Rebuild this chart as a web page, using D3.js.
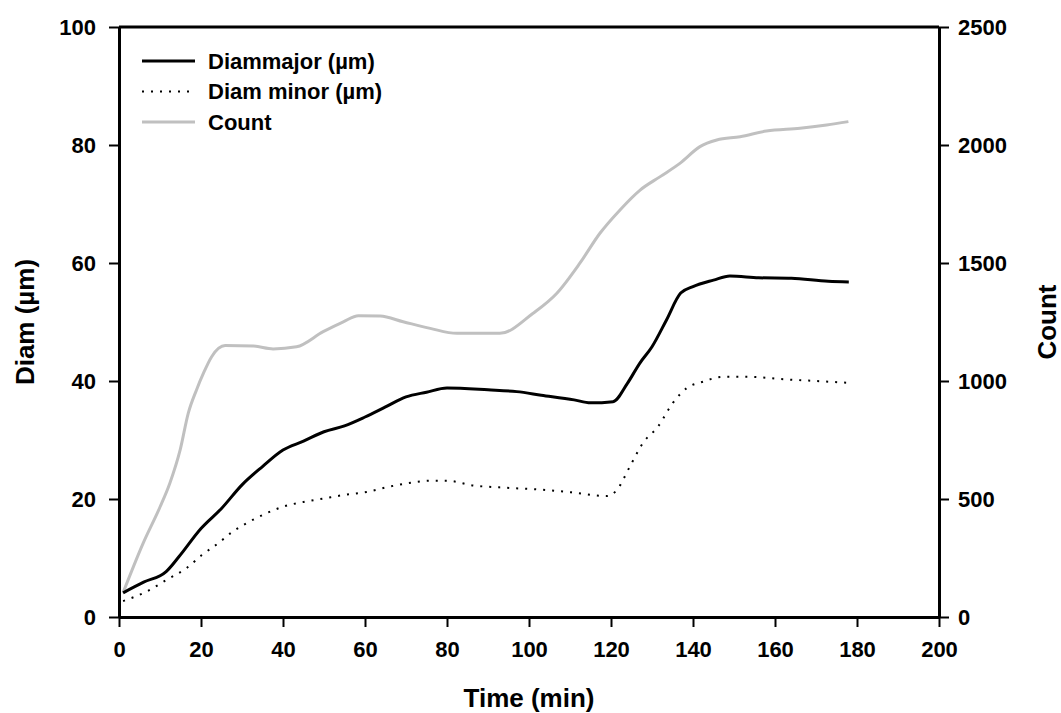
<!DOCTYPE html>
<meta charset="utf-8">
<html>
<head>
  <title>Diam and Count vs Time</title>
  <script src="https://d3js.org/d3.v7.min.js"></script>
  <style>
    body { margin: 0; background: #fff; }
    text { font-family: "Liberation Sans", Arial, sans-serif; font-weight: bold; }
  </style>
</head>
<body>
  <div id="chart"></div>
<script>

// Diammajor (um)
var majorT = [1, 6, 11.5, 14.6, 20, 25, 30, 35, 40, 45, 50, 55, 60, 65, 70, 75, 80, 90, 97, 103, 111, 115, 120.5, 124, 127, 130, 133.5, 137, 140, 145, 149, 156, 164, 173, 178];
var majorV = [4.1, 5.9, 7.7, 10.2, 15.0, 18.4, 22.4, 25.5, 28.3, 29.8, 31.4, 32.4, 33.9, 35.6, 37.3, 38.1, 38.8, 38.5, 38.2, 37.6, 36.8, 36.3, 36.5, 39.6, 43, 45.8, 50.3, 54.9, 56, 57.1, 57.8, 57.5, 57.4, 56.9, 56.8];

// Diam minor (um)
var minorT = [1, 6.7, 11.6, 16.5, 20.2, 24.2, 27.8, 31.9, 36, 40, 45, 50, 55, 60.4, 66, 71.7, 76, 80, 86.4, 94.6, 102.7, 110.8, 119, 121.4, 124.6, 127.8, 131.5, 135.1, 138.5, 142.5, 147.4, 154, 162, 170, 177.6];
var minorV = [2.7, 4.3, 6.3, 8.3, 10.5, 12.5, 14.5, 16.2, 17.6, 18.7, 19.5, 20.1, 20.7, 21.2, 22.1, 22.8, 23.1, 23.1, 22.3, 21.9, 21.6, 21.1, 20.5, 21.5, 25.5, 29.5, 32.3, 36.3, 38.8, 39.9, 40.7, 40.7, 40.3, 40.0, 39.7];

// Count (right axis)
var countT = [1, 5.9, 10, 12.4, 14.9, 16.9, 18.9, 20.6, 22.6, 25.9, 32.8, 37.6, 43.3, 49.8, 54.7, 58.4, 63.7, 69.3, 75.9, 82.4, 92.9, 101, 106.8, 112.4, 117.3, 122.2, 127.1, 132, 136.8, 141.7, 145.8, 151.5, 157.9, 166.1, 172.6, 177.9];
var countV = [103, 313, 466, 567, 707, 864, 962, 1033, 1103, 1150, 1148, 1136, 1145, 1209, 1251, 1277, 1275, 1251, 1223, 1202, 1202, 1287, 1372, 1499, 1626, 1725, 1809, 1866, 1922, 1993, 2021, 2035, 2059, 2071, 2085, 2099];

var xTicks = [0, 20, 40, 60, 80, 100, 120, 140, 160, 180, 200];
var leftTicks = [0, 20, 40, 60, 80, 100];
var rightTicks = [0, 500, 1000, 1500, 2000, 2500];
var legendNames = ["Diammajor (\u00b5m)", "Diam minor (\u00b5m)", "Count"];

// set the dimensions and margins of the graph
var margin = {top: 27, right: 122, bottom: 96, left: 119},
    width = 1061 - margin.left - margin.right,
    height = 713 - margin.top - margin.bottom;

var svg = d3.select("#chart")
  .append("svg")
    .attr("width", 1061)
    .attr("height", 713)
  .append("g")
    .attr("transform", "translate(" + margin.left + "," + margin.top + ")");

var x = d3.scaleLinear().domain([0, 200]).range([0, width]);
var y = d3.scaleLinear().domain([0, 100]).range([height, 0]);
var y2 = d3.scaleLinear().domain([0, 2500]).range([height, 0]);

function styleAxis(g) {
  g.select(".domain").attr("stroke", "#000").attr("stroke-width", 3);
  g.selectAll(".tick line").attr("stroke", "#000").attr("stroke-width", 2);
  g.selectAll(".tick text").attr("font-size", 22).attr("font-weight", "bold").attr("fill", "#000");
}

// axes
svg.append("g")
  .attr("transform", "translate(0," + height + ")")
  .call(d3.axisBottom(x).tickValues(xTicks).tickSize(10).tickSizeOuter(0).tickPadding(14))
  .call(styleAxis);

svg.append("g")
  .call(d3.axisLeft(y).tickValues(leftTicks).tickSize(10).tickSizeOuter(0).tickPadding(13))
  .call(styleAxis);

svg.append("g")
  .attr("transform", "translate(" + width + ",0)")
  .call(d3.axisRight(y2).tickValues(rightTicks).tickFormat(d3.format("d")).tickSize(10).tickSizeOuter(0).tickPadding(9))
  .call(styleAxis);

// top frame line
svg.append("line")
  .attr("x1", 0).attr("x2", width)
  .attr("y1", 0).attr("y2", 0)
  .attr("stroke", "#000").attr("stroke-width", 3);

// lines
var countData = countT.map(function(t, i) { return [t, countV[i]]; });
var majorData = majorT.map(function(t, i) { return [t, majorV[i]]; });
var minorData = minorT.map(function(t, i) { return [t, minorV[i]]; });

svg.append("path")
  .datum(countData)
  .attr("d", d3.line().x(function(d) { return x(d[0]); }).y(function(d) { return y2(d[1]); }).curve(d3.curveMonotoneX))
  .attr("fill", "none")
  .attr("stroke", "#c0c0c0")
  .attr("stroke-width", 3);

svg.append("path")
  .datum(majorData)
  .attr("d", d3.line().x(function(d) { return x(d[0]); }).y(function(d) { return y(d[1]); }).curve(d3.curveMonotoneX))
  .attr("fill", "none")
  .attr("stroke", "#000")
  .attr("stroke-width", 3);

svg.append("path")
  .datum(minorData)
  .attr("d", d3.line().x(function(d) { return x(d[0]); }).y(function(d) { return y(d[1]); }).curve(d3.curveMonotoneX))
  .attr("fill", "none")
  .attr("stroke", "#000")
  .attr("stroke-width", 2)
  .attr("stroke-dasharray", "2,7");

// legend
var legendStyle = [
  {stroke: "#000", width: 3, dash: null},
  {stroke: "#000", width: 2, dash: "2,7"},
  {stroke: "#c0c0c0", width: 3, dash: null}
];
var legend = svg.append("g").attr("transform", "translate(23,34)");
legendNames.forEach(function(name, i) {
  var row = legend.append("g").attr("transform", "translate(0," + (i * 30.5) + ")");
  row.append("line")
    .attr("x1", 0).attr("x2", 53)
    .attr("stroke", legendStyle[i].stroke)
    .attr("stroke-width", legendStyle[i].width)
    .attr("stroke-dasharray", legendStyle[i].dash);
  row.append("text")
    .attr("x", 66)
    .attr("dy", "0.35em")
    .attr("font-size", 22)
    .text(name);
});

// axis titles
svg.append("text")
  .attr("x", width / 2)
  .attr("y", 680)
  .attr("text-anchor", "middle")
  .attr("font-size", 26)
  .text("Time (min)");

svg.append("text")
  .attr("transform", "translate(" + (-94) + "," + (height / 2) + ")rotate(-90)")
  .attr("text-anchor", "middle")
  .attr("dy", "0.35em")
  .attr("font-size", 26)
  .text("Diam (\u00b5m)");

svg.append("text")
  .attr("transform", "translate(" + (width + 108) + "," + (height / 2) + ")rotate(-90)")
  .attr("text-anchor", "middle")
  .attr("dy", "0.35em")
  .attr("font-size", 26)
  .text("Count");

</script>
</body>
</html>
